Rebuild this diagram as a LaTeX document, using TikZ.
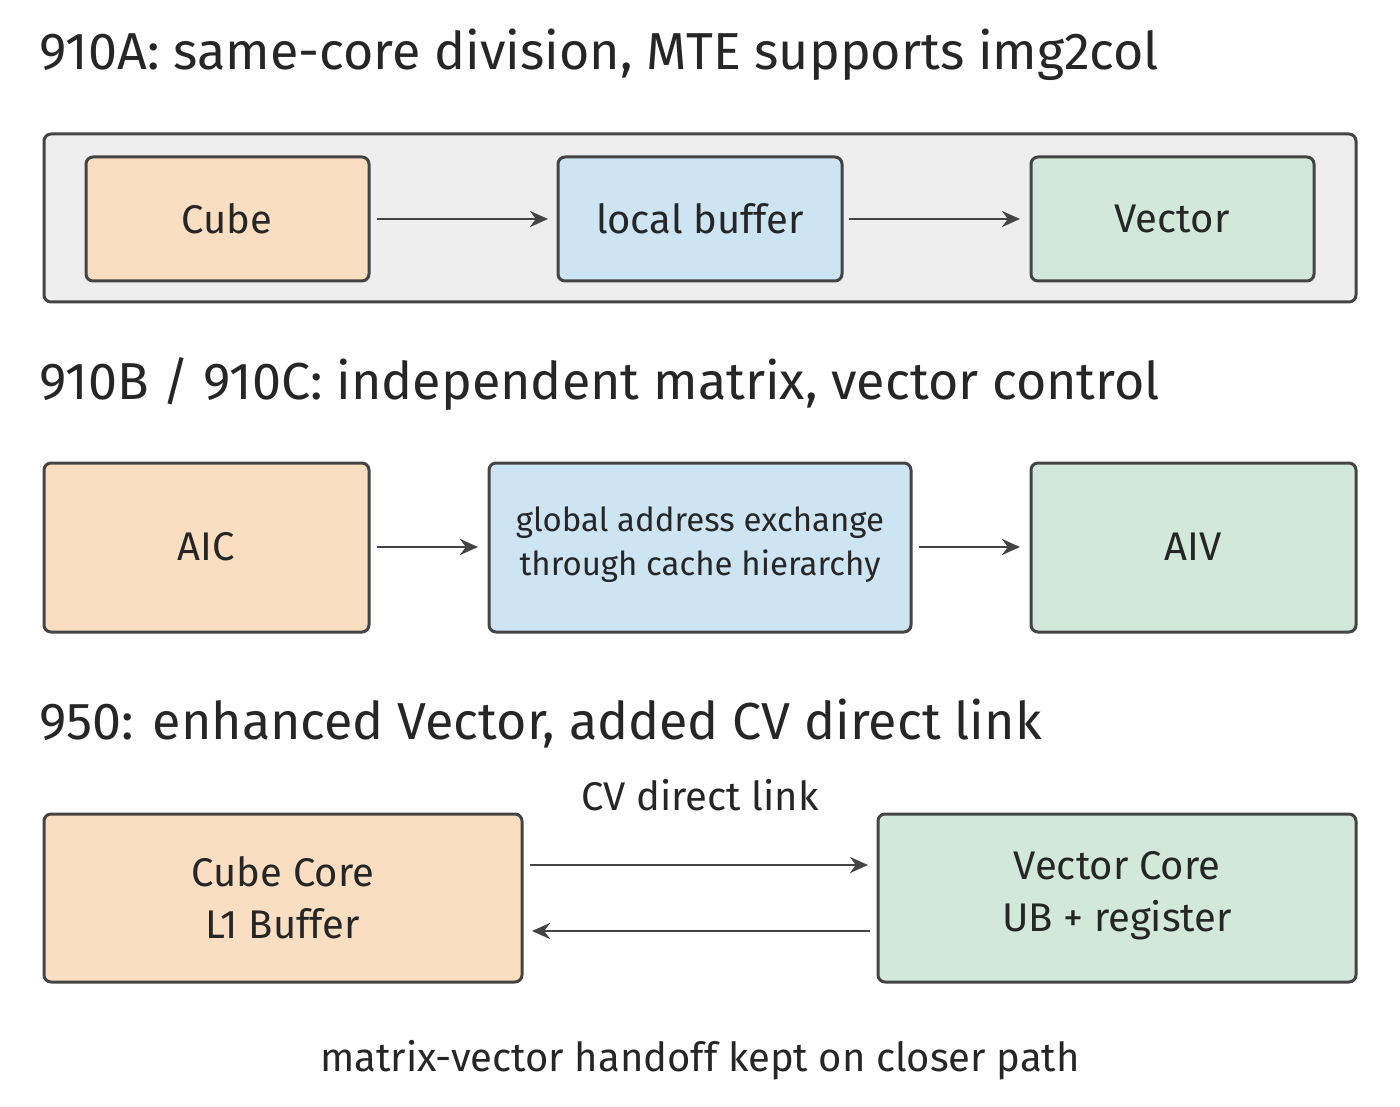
\documentclass[tikz,border=0pt]{standalone}
\usepackage{fontspec}
\setmainfont{Fira Sans}
\usetikzlibrary{arrows.meta}
\definecolor{edge}{HTML}{444444}
\definecolor{orangefill}{HTML}{F9DEC1}
\definecolor{bluefill}{HTML}{CDE4F3}
\definecolor{greenfill}{HTML}{D1E8DB}
\definecolor{grayfill}{HTML}{EEEEEE}
\begin{document}
\begin{tikzpicture}[x=1pt,y=-1pt,
  box/.style={draw=edge,line width=3pt,rounded corners=7pt},
  arr/.style={draw=edge,line width=2.8pt,-{Stealth[length=18pt,width=16pt]}},
  title/.style={anchor=west,font=\fontsize{52}{58}\selectfont,text=black!85},
  lbl/.style={font=\fontsize{40}{48}\selectfont,text=black!85,align=center}]
\useasboundingbox (0,0) rectangle (1400,1107);
\node[title] (t1) at (36,55) {910A: same-core division, MTE supports img2col};
\draw[box,fill=grayfill] (44,134) rectangle (1356,302);
\draw[box,fill=orangefill] (86,157) rectangle (369,281);
\draw[box,fill=bluefill] (558,157) rectangle (842,281);
\draw[box,fill=greenfill] (1031,157) rectangle (1314,281);
\node[lbl] (cube) at (227,219) {Cube};
\node[lbl] (lb) at (700,219) {local buffer};
\node[lbl] (vec) at (1172,219) {Vector};
\coordinate (a1) at (377,219); \coordinate (a2) at (548,219);
\coordinate (a3) at (849,219); \coordinate (a4) at (1020,219);
\draw[arr] (a1) -- (a2); \draw[arr] (a3) -- (a4);

\node[title] (t2) at (36,384) {910B / 910C: independent matrix, vector control};
\draw[box,fill=orangefill] (44,463) rectangle (369,632);
\draw[box,fill=bluefill] (489,463) rectangle (911,632);
\draw[box,fill=greenfill] (1031,463) rectangle (1356,632);
\node[lbl] (aic) at (206,547) {AIC};
\node[lbl,font=\fontsize{33}{44}\selectfont] (gae) at (700,545) {global address exchange\\through cache hierarchy};
\node[lbl] (aiv) at (1193,547) {AIV};
\coordinate (b1) at (377,547); \coordinate (b2) at (478,547);
\coordinate (b3) at (919,547); \coordinate (b4) at (1020,547);
\draw[arr] (b1) -- (b2); \draw[arr] (b3) -- (b4);

\node[title] (t3) at (36,724) {950: enhanced Vector, added CV direct link};
\draw[box,fill=orangefill] (44,814) rectangle (522,982);
\draw[box,fill=greenfill] (878,814) rectangle (1356,982);
\node[lbl,font=\fontsize{40}{52}\selectfont] (cc) at (283,898) {Cube Core\\L1 Buffer};
\node[lbl,font=\fontsize{40}{52}\selectfont] (vc) at (1117,896) {Vector Core\\UB + register};
\node[lbl] (cv) at (700,795) {CV direct link};
\coordinate (c1) at (530,865); \coordinate (c2) at (868,865);
\coordinate (c3) at (870,931); \coordinate (c4) at (532,931);
\draw[arr] (c1) -- (c2); \draw[arr] (c3) -- (c4);
\node[lbl] (bt) at (700,1060) {matrix-vector handoff kept on closer path};
\end{tikzpicture}
\end{document}
